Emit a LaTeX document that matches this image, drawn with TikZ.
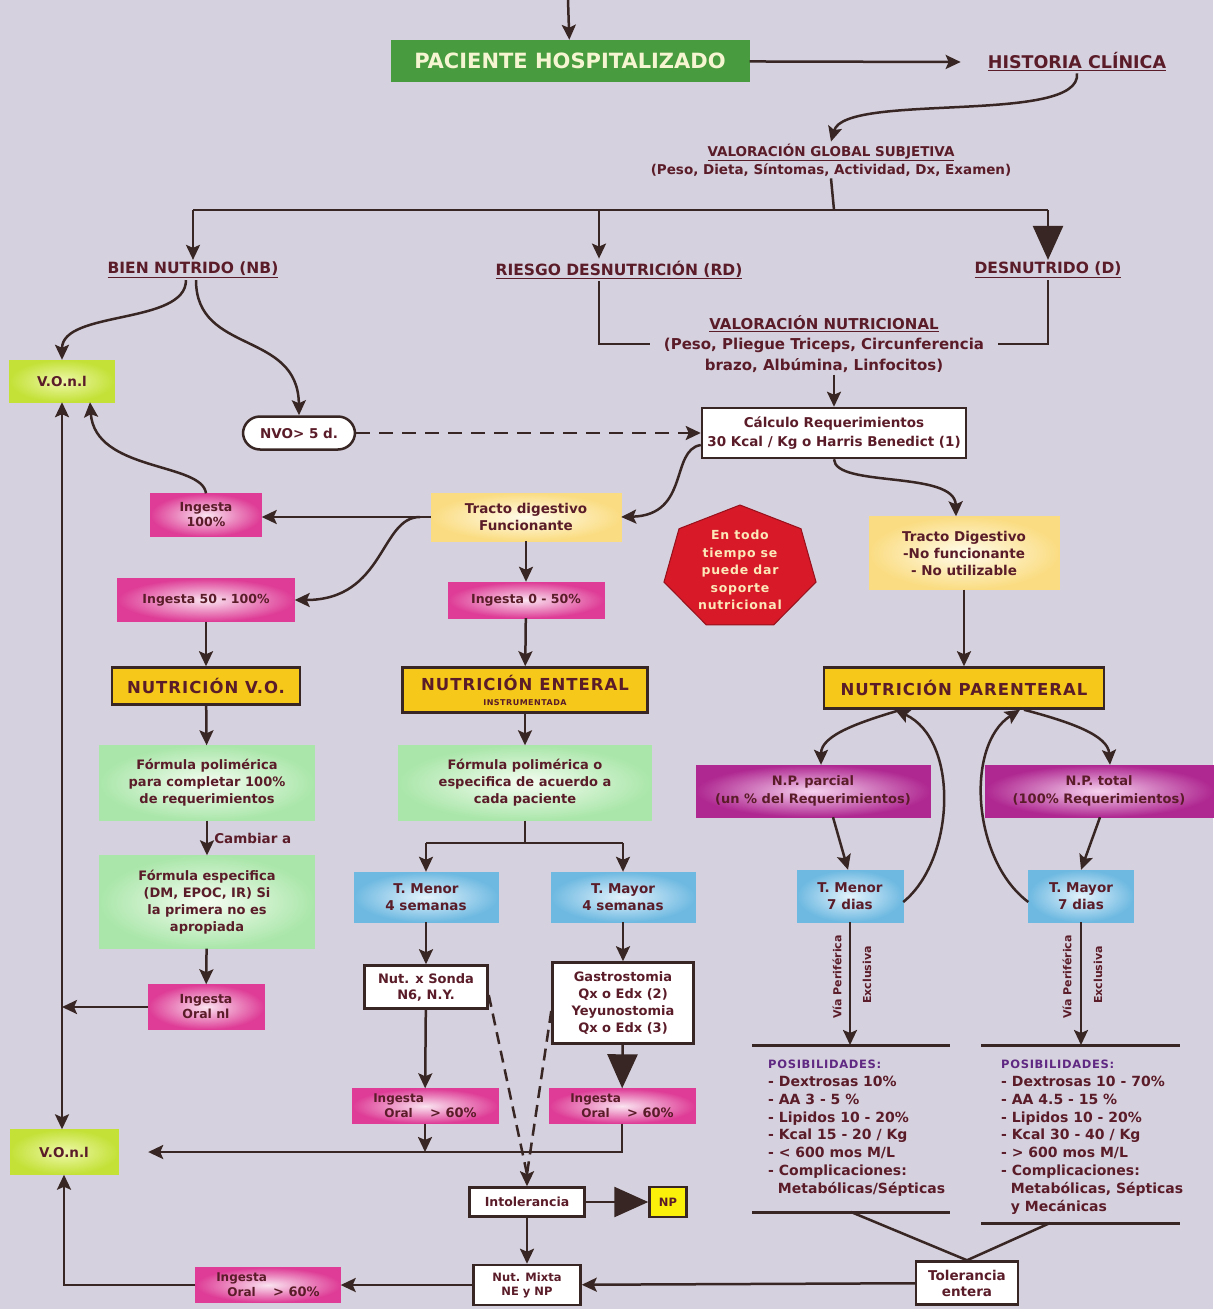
\documentclass[tikz,border=0pt]{standalone}
\usepackage{fontspec}
\setmainfont{DejaVu Sans}
\newfontfamily\widefont{DejaVu Sans}[LetterSpace=6]
\usetikzlibrary{arrows.meta,shapes.geometric}

\definecolor{bgcol}{RGB}{214,209,222}
\definecolor{linecol}{RGB}{55,38,35}
\definecolor{txtcol}{RGB}{90,28,40}
\definecolor{pacgreen}{RGB}{72,155,62}
\definecolor{pactxt}{RGB}{245,245,210}
\definecolor{limeedge}{RGB}{195,225,55}
\definecolor{limemid}{RGB}{238,248,170}
\definecolor{pinkedge}{RGB}{222,60,150}
\definecolor{pinkmid}{RGB}{250,228,240}
\definecolor{creamedge}{RGB}{250,220,130}
\definecolor{creammid}{RGB}{255,252,236}
\definecolor{mintedge}{RGB}{170,230,170}
\definecolor{mintmid}{RGB}{246,253,242}
\definecolor{blueedge}{RGB}{110,185,225}
\definecolor{bluemid}{RGB}{228,243,252}
\definecolor{gold}{RGB}{245,200,25}
\definecolor{plumedge}{RGB}{175,40,145}
\definecolor{plummid}{RGB}{246,210,238}
\definecolor{octred}{RGB}{215,25,40}
\definecolor{octtext}{RGB}{252,232,185}
\definecolor{npyellow}{RGB}{250,240,10}
\definecolor{posviolet}{RGB}{95,40,130}

\newcommand{\ioral}{{\fontsize{12}{11}\selectfont\shortstack{Ingesta\\Oral}}\enspace{\fontsize{13}{13}\selectfont> 60\%}}

\begin{document}
\begin{tikzpicture}[x=1pt,y=-1pt]
    \tikzstyle{every node}=[font=\bfseries\fontsize{13.5}{19}\selectfont, text=txtcol, align=center, inner sep=2pt]
    \tikzstyle{wire}=[draw=linecol, line width=2.5]
    \tikzstyle{arr}=[wire, -{Stealth[length=15pt,width=14pt,inset=3pt]}]
    \tikzstyle{bigarr}=[wire, -{Triangle[length=34pt,width=30pt]}]
    \tikzstyle{lbl}=[font=\bfseries\fontsize{15.5}{20}\selectfont]
    \tikzstyle{whitebox}=[draw=linecol, line width=2.5, fill=white]
    \tikzstyle{pinkbox}=[draw=pinkedge, inner color=pinkmid, outer color=pinkedge, font=\bfseries\fontsize{12.5}{15}\selectfont]
    \tikzstyle{limebox}=[draw=limeedge, inner color=limemid, outer color=limeedge]
    \tikzstyle{creambox}=[draw=creamedge, inner color=creammid, outer color=creamedge, font=\bfseries\fontsize{13.5}{17}\selectfont]
    \tikzstyle{mintbox}=[draw=mintedge, inner color=mintmid, outer color=mintedge, font=\bfseries\fontsize{13}{17}\selectfont]
    \tikzstyle{bluebox}=[draw=blueedge, inner color=bluemid, outer color=blueedge, font=\bfseries\fontsize{13.5}{17}\selectfont]
    \tikzstyle{plumbox}=[draw=plumedge, inner color=plummid, outer color=plumedge, font=\bfseries\fontsize{13}{18}\selectfont]
    \tikzstyle{goldbox}=[draw=linecol, line width=2.5, fill=gold, font=\widefont\bfseries\fontsize{16.5}{18}\selectfont]
    \tikzstyle{via}=[rotate=90, font=\bfseries\fontsize{11}{12}\selectfont]
    \tikzstyle{poslist}=[anchor=north west, align=left, font=\bfseries\fontsize{14}{17.8}\selectfont]

    \fill[bgcol] (0,0) rectangle (1213,1309);
    \useasboundingbox (0,0) rectangle (1213,1309);

    \coordinate (topin) at (568,0);
    \node[fill=pacgreen, minimum width=359, minimum height=42, text=pactxt, font=\bfseries\fontsize{21}{23}\selectfont] (pac) at (570,61) {PACIENTE HOSPITALIZADO};
    \node[lbl, font=\bfseries\fontsize{17.5}{20}\selectfont] (hist) at (1077,62) {\underline{HISTORIA CLÍNICA}};
    \node[lbl, font=\bfseries\fontsize{13.5}{18}\selectfont] (vgs) at (831,160) {\underline{VALORACIÓN GLOBAL SUBJETIVA}\\(Peso, Dieta, Síntomas, Actividad, Dx, Examen)};
    \node[lbl] (nb) at (193,270) {\underline{BIEN NUTRIDO (NB)}};
    \node[lbl] (rd) at (619,270) {\underline{RIESGO DESNUTRICIÓN (RD)}};
    \node[lbl] (d) at (1048,270) {\underline{DESNUTRIDO (D)}};
    \node[lbl, font=\bfseries\fontsize{15}{20.5}\selectfont] (vn) at (824,344) {\underline{VALORACIÓN NUTRICIONAL}\\(Peso, Pliegue Triceps, Circunferencia\\brazo, Albúmina, Linfocitos)};
    \node[whitebox, minimum width=264, minimum height=50] (calc) at (834,433) {Cálculo Requerimientos\\30 Kcal / Kg o Harris Benedict (1)};
    \node[limebox, minimum width=105, minimum height=42] (voni1) at (62,381) {V.O.n.l};
    \node[draw=linecol, line width=2.5, fill=white, rounded corners=17, minimum width=112, minimum height=33] (nvo) at (299,433) {NVO> 5 d.};
    \node[creambox, minimum width=190, minimum height=48] (tdf) at (526,517) {Tracto digestivo\\Funcionante};
    \node[pinkbox, minimum width=111, minimum height=43] (ing100) at (206,515) {Ingesta\\100\%};
    \node[pinkbox, minimum width=177, minimum height=43] (ing50) at (206,600) {Ingesta 50 - 100\%};
    \node[pinkbox, minimum width=156, minimum height=36] (ing0) at (526,600) {Ingesta 0 - 50\%};
    \filldraw[fill=octred, draw=octred!70!black, line width=1] (740,568) +(-90:78 and 63) -- +(-38.57:78 and 63) -- +(12.86:78 and 63) -- +(64.29:78 and 63) -- +(115.71:78 and 63) -- +(167.14:78 and 63) -- +(218.57:78 and 63) -- cycle;
    \node[text=octtext, font=\widefont\bfseries\fontsize{12.5}{17.5}\selectfont] (oct) at (740,570) {En todo\\tiempo se\\puede dar\\soporte\\nutricional};
    \node[creambox, minimum width=190, minimum height=73] (tdn) at (964,553) {Tracto Digestivo\\-No funcionante\\- No utilizable};
    \node[goldbox, minimum width=188, minimum height=37] (nutvo) at (206,686) {NUTRICIÓN V.O.};
    \node[goldbox, minimum width=245, minimum height=45, inner sep=1pt] (nutne) at (525,690) {NUTRICIÓN ENTERAL\\[-3pt]{\fontsize{8}{9}\selectfont INSTRUMENTADA}};
    \node[goldbox, minimum width=280, minimum height=41] (nutnp) at (964,688) {NUTRICIÓN PARENTERAL};
    \node[mintbox, minimum width=215, minimum height=75] (fp1) at (207,783) {Fórmula polimérica\\para completar 100\%\\de requerimientos};
    \node[mintbox, minimum width=215, minimum height=93] (fe) at (207,902) {Fórmula especifica\\(DM, EPOC, IR) Si\\la primera no es\\apropiada};
    \node[pinkbox, minimum width=116, minimum height=45] (ion) at (206,1007) {Ingesta\\Oral nl};
    \node[mintbox, minimum width=253, minimum height=75] (fp2) at (525,783) {Fórmula polimérica o\\especifica de acuerdo a\\cada paciente};
    \node[bluebox, minimum width=144, minimum height=50] (tmen4) at (426,897) {T. Menor\\4 semanas};
    \node[bluebox, minimum width=144, minimum height=50] (tmay4) at (623,897) {T. Mayor\\4 semanas};
    \node[whitebox, minimum width=123, minimum height=43, font=\bfseries\fontsize{13}{16}\selectfont] (sonda) at (426,987) {Nut. x Sonda\\N6, N.Y.};
    \node[whitebox, minimum width=141, minimum height=81, font=\bfseries\fontsize{13}{17}\selectfont] (gastro) at (623,1003) {Gastrostomia\\Qx o Edx (2)\\Yeyunostomia\\Qx o Edx (3)};
    \node[pinkbox, minimum width=146, minimum height=35] (iol) at (425,1106) {\ioral};
    \node[pinkbox, minimum width=146, minimum height=35] (ior) at (622,1106) {\ioral};
    \node[limebox, minimum width=108, minimum height=45] (voni2) at (64,1152) {V.O.n.l};
    \node[whitebox, minimum width=115, minimum height=29, font=\bfseries\fontsize{12.5}{14}\selectfont] (intol) at (527,1202) {Intolerancia};
    \node[draw=linecol, line width=2.5, fill=npyellow, minimum width=37, minimum height=30, font=\bfseries\fontsize{11.5}{13}\selectfont] (np) at (668,1202) {NP};
    \node[whitebox, minimum width=107, minimum height=40, font=\bfseries\fontsize{11.5}{14}\selectfont] (mixta) at (527,1285) {Nut. Mixta\\NE y NP};
    \node[pinkbox, minimum width=145, minimum height=35] (iob) at (268,1285) {\ioral};
    \node[whitebox, minimum width=102, minimum height=43, font=\bfseries\fontsize{13.5}{16}\selectfont] (tol) at (967,1283) {Tolerancia\\entera};
    \node[plumbox, minimum width=234, minimum height=52] (npp) at (813,791) {N.P. parcial\\(un \% del Requerimientos)};
    \node[plumbox, minimum width=228, minimum height=52] (npt) at (1099,791) {N.P. total\\(100\% Requerimientos)};
    \node[bluebox, minimum width=106, minimum height=52] (tmen7) at (850,896) {T. Menor\\7 dias};
    \node[bluebox, minimum width=105, minimum height=52] (tmay7) at (1081,896) {T. Mayor\\7 dias};
    \node[via] (vial) at (837,977) {Vía Periférica};
    \node[via] (excl) at (867,975) {Exclusiva};
    \node[via] (viar) at (1067,977) {Vía Periférica};
    \node[via] (excr) at (1098,975) {Exclusiva};
    \node[poslist] (posl) at (766,1058) {{\widefont\fontsize{11.5}{17.8}\selectfont\color{posviolet}POSIBILIDADES:}\\- Dextrosas 10\%\\- AA 3 - 5 \%\\- Lipidos 10 - 20\%\\- Kcal 15 - 20 / Kg\\- < 600 mos M/L\\- Complicaciones:\\\ \ Metabólicas/Sépticas};
    \node[poslist] (posr) at (999,1058) {{\widefont\fontsize{11.5}{17.8}\selectfont\color{posviolet}POSIBILIDADES:}\\- Dextrosas 10 - 70\%\\- AA 4.5 - 15 \%\\- Lipidos 10 - 20\%\\- Kcal 30 - 40 / Kg\\- > 600 mos M/L\\- Complicaciones:\\\ \ Metabólicas, Sépticas\\\ \ y Mecánicas};

    \coordinate (bar) at (834,210);
    \coordinate (barl) at (193,210);
    \coordinate (barm) at (599,210);
    \coordinate (barr) at (1048,210);
    \coordinate (split) at (420,517);
    \coordinate (fork) at (525,843);
    \coordinate (meet) at (527,1174);
    \coordinate (toplbar) at (752,1045);
    \coordinate (toprbar) at (1180,1045);
    \coordinate (botl) at (851,1212);
    \coordinate (botr) at (1050,1223);

    \draw[arr] (topin) -- (pac);
    \draw[arr] (pac) -- ([xshift=-25]hist.west);
    \draw[arr] (hist.south) .. controls (1082,125) and (845,92) .. (vgs.north);
    \draw[wire] (vgs.south) -- (bar);
    \draw[wire] (barl) -- (barr);
    \draw[arr] (barl) -- (nb);
    \draw[arr] (barm) -- (barm |- rd.north);
    \draw[bigarr] (barr) -- (d);
    \draw[wire] (barm |- rd.south) |- ([xshift=-12]vn.west);
    \draw[wire] (d.south) |- ([xshift=12]vn.east);
    \draw[arr] (calc.north |- vn.south) -- (calc.north);
    \draw[arr] ([xshift=-7]nb.south) .. controls (186,325) and (62,310) .. (voni1.north);
    \draw[arr] ([xshift=3]nb.south) .. controls (196,355) and (298,330) .. (nvo.north);
    \draw[arr, dash pattern=on 14pt off 9pt] (nvo) -- (calc);
    \draw[arr] ([yshift=-12]calc.west) .. controls (670,450) and (690,515) .. (tdf.east);
    \draw[arr] (calc.south) .. controls (835,488) and (955,470) .. ([xshift=-8]tdn.north);
    \draw[arr] (tdf.west) -- (tdf.west -| ing100.east);
    \draw[arr] (split) .. controls (380,517) and (385,600) .. (ing50.east);
    \draw[arr] (ing100.north) .. controls (202,462) and (95,472) .. ([xshift=28]voni1.south);
    \draw[arr] (tdf) -- (ing0);
    \draw[arr] (ing50) -- (nutvo);
    \draw[arr] (ing0) -- (nutne);
    \draw[arr] (tdn) -- (nutnp);
    \draw[arr] (nutvo) -- (fp1);
    \draw[arr] (fp1) -- node[right=4pt, font=\bfseries\fontsize{13.5}{16}\selectfont] (cambiar) {Cambiar a} (fe);
    \draw[arr] (fe) -- (ion);
    \draw[arr] (ion.west) -- (ion.west -| voni1.south);
    \draw[wire, {Stealth[length=15pt,width=14pt,inset=3pt]}-{Stealth[length=15pt,width=14pt,inset=3pt]}] (voni1.south) -- (voni1.south |- voni2.north);
    \draw[arr] (nutne) -- (fp2);
    \draw[wire] (fp2.south) -- (fork);
    \draw[wire] (tmen4 |- fork) -- (tmay4 |- fork);
    \draw[arr] (tmen4 |- fork) -- (tmen4);
    \draw[arr] (tmay4 |- fork) -- (tmay4);
    \draw[arr] (tmen4) -- (sonda);
    \draw[arr] (tmay4) -- (gastro);
    \draw[arr] (sonda) -- (iol);
    \draw[bigarr] (gastro) -- (ior);
    \draw[arr] (ior.south) |- ([xshift=30]voni2.east);
    \draw[arr] (iol.south) -- (iol.south |- voni2.east);
    \draw[wire, dash pattern=on 12pt off 7pt] ([yshift=-8]sonda.east) -- (meet);
    \draw[wire, dash pattern=on 12pt off 7pt] ([yshift=-8]gastro.west) -- (meet);
    \draw[arr] (meet) -- (intol.north);
    \draw[bigarr] (intol) -- (np);
    \draw[arr] (intol) -- (mixta);
    \draw[arr] (mixta) -- (iob);
    \draw[arr] (iob.west) -| (voni2.south);
    \draw[arr] (tol) -- (mixta);
    \draw[arr] ([xshift=-63]nutnp.south) .. controls (860,722) and (821,735) .. ([xshift=8]npp.north);
    \draw[arr] ([yshift=-6]tmen7.east) .. controls (955,860) and (960,740) .. ([xshift=-69]nutnp.south);
    \draw[arr] ([xshift=60]nutnp.south) .. controls (1070,722) and (1108,735) .. ([xshift=11]npt.north);
    \draw[arr] ([yshift=-6]tmay7.west) .. controls (972,860) and (965,745) .. ([xshift=56]nutnp.south);
    \draw[arr] ([xshift=20]npp.south) -- ([xshift=-2]tmen7.north);
    \draw[arr] ([xshift=1]npt.south) -- (tmay7.north);
    \draw[arr] (tmen7) -- (tmen7 |- toplbar);
    \draw[arr] (tmay7) -- (tmay7 |- toprbar);
    \draw[wire, line width=3] (toplbar) -- (950,1045);
    \draw[wire, line width=3] (981,1045) -- (toprbar);
    \draw[wire, line width=3] (752,1212) -- (950,1212);
    \draw[wire, line width=3] (981,1223) -- (1180,1223);
    \draw[wire] (botl) -- (tol.north);
    \draw[wire] (botr) -- (tol.north);
\end{tikzpicture}
\end{document}
